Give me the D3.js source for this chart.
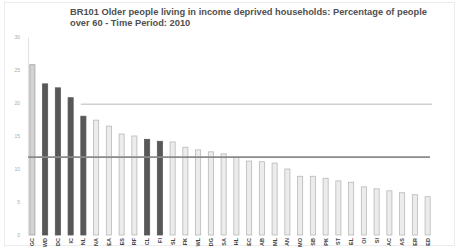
<!DOCTYPE html>
<html><head><meta charset="utf-8">
<script src="https://cdn.jsdelivr.net/npm/d3@7"></script>
<style>body{margin:0;background:#fff;}svg{display:block;font-family:"Liberation Sans",Arial,sans-serif;}</style>
</head><body>
<script>
const titleLines = ["BR101 Older people living in income deprived households: Percentage of people", "over 60 - Time Period: 2010"];
const areas = ["GC","WD","DC","IC","NL","NA","EA","ES","RF","CL","FI","SL","FK","WL","DG","SA","HL","EC","AB","ML","AN","MO","SB","PK","ST","EL","OI","SI","AC","AS","ER","ED"];
const values = [25.8,22.9,22.3,20.8,18.0,17.4,16.5,15.3,15.0,14.5,14.2,14.1,13.3,12.9,12.6,12.3,11.8,11.2,11.1,10.9,10.0,8.9,8.9,8.6,8.2,8.0,7.3,7.0,6.7,6.4,6.1,5.8];
const highlight = [0,1,1,1,1,0,0,0,0,1,1,0,0,0,0,0,0,0,0,0,0,0,0,0,0,0,0,0,0,0,0,0];
const yTicks = [0,5,10,15,20,25,30];
const averageValue = 11.8;
const upperValue = 19.8;

const W=460,H=248;
const svg=d3.select("body").append("svg").attr("width",W).attr("height",H);
svg.append("rect").attr("x",4.5).attr("y",2.5).attr("width",450).attr("height",243).attr("fill","none").attr("stroke","#ececec");

const x=d3.scaleBand().domain(areas).range([26,434]).paddingInner(0.6).paddingOuter(0.3);
const y=d3.scaleLinear().domain([0,30]).range([235,37]);

svg.append("g").selectAll("text").data(titleLines).join("text")
 .attr("x",70).attr("y",(d,i)=>15+i*11).attr("font-size",9.3).attr("font-weight","bold").attr("fill","#505050").text(d=>d);

const ya=svg.append("g").attr("transform","translate(28,0)").call(d3.axisLeft(y).tickValues(yTicks).tickSize(0).tickPadding(8));
ya.select(".domain").attr("stroke","#e2e2e2");
ya.selectAll("text").attr("font-size",5).attr("fill","#aaa");

svg.append("g").selectAll("rect").data(values).join("rect")
 .attr("x",(d,i)=>x(areas[i])).attr("width",x.bandwidth())
 .attr("y",d=>y(d)).attr("height",d=>y(0)-y(d))
 .attr("fill",(d,i)=>highlight[i]?"#585858":(i===0?"#d2d2d2":"#ececec"))
 .attr("stroke",(d,i)=>highlight[i]?"#585858":(i===0?"#a0a0a0":"#b8b8b8"))
 .attr("stroke-width",0.8);

svg.append("line").attr("x1",x(areas[4])).attr("x2",432).attr("y1",y(upperValue)).attr("y2",y(upperValue)).attr("stroke","#d0d0d0").attr("stroke-width",1.5);
svg.append("line").attr("x1",28).attr("x2",430).attr("y1",y(averageValue)).attr("y2",y(averageValue)).attr("stroke","#8a8a8a").attr("stroke-width",1.6);

const xa=svg.append("g");
xa.selectAll("text").data(areas).join("text")
 .attr("transform",d=>`translate(${x(d)+x.bandwidth()/2+2},238) rotate(-90)`)
 .attr("text-anchor","end").attr("font-size",5.5).attr("font-weight","bold").attr("fill","#444").text(d=>d);
</script>
</body></html>
